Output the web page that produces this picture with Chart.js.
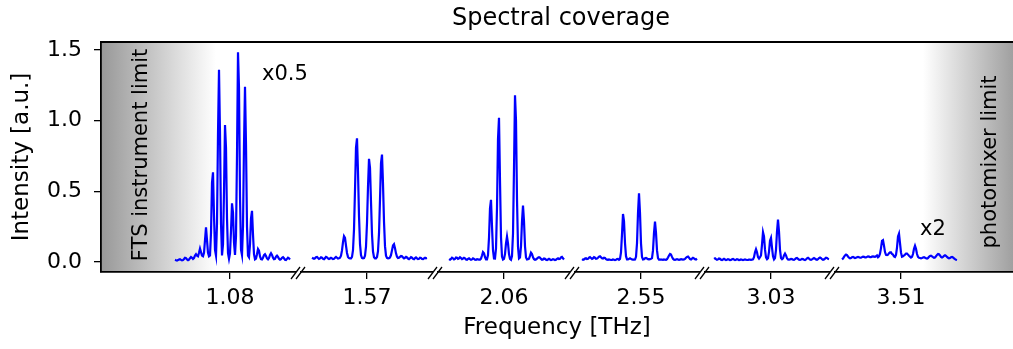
<!DOCTYPE html>
<html lang="en">
<head>
<meta charset="UTF-8">
<title>Spectral coverage</title>
<script src="https://cdn.jsdelivr.net/npm/chart.js"></script>
<style>
    body { margin: 0; background: #ffffff; overflow: hidden; }
    #wrap { width: 1013px; height: 349px; }
</style>
</head>
<body>
<div id="wrap"><canvas id="coverage" width="1013" height="349"></canvas></div>
<script>
// tick labels (THz) for the six measured windows
const tickLabels = ['1.08', '1.57', '2.06', '2.55', '3.03', '3.51'];
const yTicks = [0, 0.5, 1.0, 1.5];

// intensity traces, one sample per plot unit (a.u.)
const band108 = [
    0.015, 0.012, 0.010, 0.013, 0.017, 0.019, 0.015, 0.011, 0.013, 0.021,
    0.030, 0.027, 0.018, 0.013, 0.017, 0.027, 0.035, 0.030, 0.022, 0.028,
    0.045, 0.055, 0.044, 0.040, 0.065, 0.095, 0.070, 0.045, 0.040, 0.065,
    0.155, 0.245, 0.155, 0.065, 0.040, 0.046, 0.205, 0.560, 0.635, 0.328,
    0.085, 0.045, 0.275, 0.909, 1.360, 0.909, 0.275, 0.046, 0.124, 0.497,
    0.970, 0.807, 0.309, 0.063, 0.023, 0.061, 0.219, 0.415, 0.350, 0.139,
    0.050, 0.182, 0.755, 1.485, 1.232, 0.466, 0.088, 0.050, 0.251, 0.829,
    1.240, 0.829, 0.251, 0.045, 0.033, 0.124, 0.309, 0.362, 0.194, 0.055,
    0.019, 0.024, 0.055, 0.092, 0.080, 0.039, 0.020, 0.018, 0.030, 0.048,
    0.055, 0.042, 0.025, 0.018, 0.028, 0.050, 0.062, 0.050, 0.030, 0.020,
    0.022, 0.038, 0.045, 0.036, 0.022, 0.016, 0.020, 0.030, 0.034, 0.026,
    0.016, 0.014, 0.022, 0.030, 0.026, 0.018
];
const band157 = [
    0.030, 0.026, 0.022, 0.026, 0.034, 0.036, 0.028, 0.022, 0.025, 0.033,
    0.030, 0.022, 0.020, 0.027, 0.036, 0.033, 0.025, 0.021, 0.024, 0.030,
    0.026, 0.020, 0.022, 0.030, 0.036, 0.030, 0.024, 0.026, 0.030, 0.044,
    0.082, 0.140, 0.182, 0.170, 0.116, 0.064, 0.036, 0.027, 0.025, 0.025,
    0.036, 0.084, 0.230, 0.509, 0.810, 0.875, 0.636, 0.328, 0.126, 0.048,
    0.028, 0.025, 0.027, 0.044, 0.109, 0.276, 0.532, 0.730, 0.666, 0.426,
    0.195, 0.074, 0.034, 0.026, 0.026, 0.035, 0.076, 0.202, 0.443, 0.700,
    0.760, 0.553, 0.287, 0.112, 0.045, 0.029, 0.026, 0.027, 0.032, 0.049,
    0.082, 0.116, 0.125, 0.097, 0.061, 0.037, 0.028, 0.030, 0.036, 0.042,
    0.040, 0.032, 0.026, 0.030, 0.036, 0.032, 0.024, 0.020, 0.026, 0.034,
    0.030, 0.022, 0.020, 0.027, 0.032, 0.026, 0.020, 0.022, 0.030, 0.028,
    0.021, 0.020, 0.026, 0.030, 0.026, 0.028
];
const band206 = [
    0.020, 0.016, 0.022, 0.030, 0.026, 0.018, 0.022, 0.032, 0.030, 0.022,
    0.026, 0.034, 0.028, 0.020, 0.024, 0.030, 0.026, 0.018, 0.016, 0.022,
    0.026, 0.020, 0.015, 0.018, 0.026, 0.022, 0.016, 0.015, 0.020, 0.018,
    0.016, 0.016, 0.024, 0.046, 0.070, 0.062, 0.035, 0.019, 0.019, 0.049,
    0.171, 0.380, 0.440, 0.251, 0.083, 0.025, 0.024, 0.095, 0.384, 0.870,
    1.020, 0.574, 0.175, 0.038, 0.017, 0.022, 0.056, 0.132, 0.180, 0.132,
    0.056, 0.022, 0.016, 0.042, 0.200, 0.663, 1.180, 1.000, 0.443, 0.108,
    0.025, 0.032, 0.111, 0.287, 0.400, 0.287, 0.111, 0.032, 0.018, 0.020,
    0.023, 0.043, 0.066, 0.057, 0.033, 0.020, 0.016, 0.018, 0.024, 0.030,
    0.034, 0.030, 0.022, 0.016, 0.018, 0.024, 0.022, 0.016, 0.014, 0.018,
    0.022, 0.018, 0.014, 0.016, 0.020, 0.018, 0.014, 0.016, 0.022, 0.026,
    0.020, 0.022, 0.032, 0.036, 0.026, 0.018
];
const band255 = [
    0.020, 0.016, 0.018, 0.024, 0.026, 0.020, 0.022, 0.030, 0.034, 0.028,
    0.022, 0.026, 0.034, 0.030, 0.022, 0.024, 0.030, 0.038, 0.040, 0.034,
    0.026, 0.024, 0.030, 0.028, 0.020, 0.016, 0.015, 0.018, 0.016, 0.014,
    0.015, 0.018, 0.016, 0.014, 0.016, 0.020, 0.022, 0.016, 0.022, 0.067,
    0.196, 0.340, 0.289, 0.134, 0.041, 0.018, 0.018, 0.022, 0.026, 0.022,
    0.018, 0.016, 0.016, 0.017, 0.036, 0.132, 0.347, 0.486, 0.347, 0.132,
    0.036, 0.018, 0.020, 0.026, 0.028, 0.024, 0.020, 0.018, 0.020, 0.022,
    0.027, 0.082, 0.206, 0.285, 0.206, 0.082, 0.027, 0.016, 0.016, 0.018,
    0.016, 0.015, 0.018, 0.016, 0.015, 0.020, 0.032, 0.046, 0.056, 0.052,
    0.036, 0.022, 0.016, 0.015, 0.018, 0.020, 0.018, 0.015, 0.016, 0.020,
    0.018, 0.016, 0.018, 0.022, 0.030, 0.036, 0.038, 0.030, 0.020, 0.018,
    0.024, 0.030, 0.026, 0.020, 0.018, 0.024
];
const band303 = [
    0.022, 0.026, 0.020, 0.015, 0.018, 0.024, 0.022, 0.016, 0.014, 0.018,
    0.022, 0.018, 0.014, 0.016, 0.020, 0.018, 0.014, 0.015, 0.019, 0.021,
    0.017, 0.014, 0.016, 0.020, 0.018, 0.014, 0.015, 0.018, 0.016, 0.014,
    0.016, 0.018, 0.016, 0.014, 0.015, 0.017, 0.016, 0.015, 0.016, 0.018,
    0.034, 0.068, 0.090, 0.068, 0.034, 0.024, 0.034, 0.046, 0.123, 0.210,
    0.180, 0.087, 0.032, 0.020, 0.027, 0.072, 0.150, 0.170, 0.101, 0.040,
    0.018, 0.028, 0.086, 0.216, 0.300, 0.216, 0.086, 0.028, 0.020, 0.026,
    0.047, 0.060, 0.047, 0.026, 0.018, 0.016, 0.018, 0.022, 0.020, 0.016,
    0.015, 0.020, 0.026, 0.028, 0.022, 0.016, 0.015, 0.018, 0.022, 0.020,
    0.016, 0.014, 0.018, 0.026, 0.030, 0.024, 0.017, 0.015, 0.018, 0.024,
    0.028, 0.024, 0.018, 0.016, 0.020, 0.028, 0.032, 0.028, 0.020, 0.016,
    0.018, 0.024, 0.030, 0.028, 0.022, 0.020
];
const band351 = [
    0.018, 0.024, 0.036, 0.046, 0.052, 0.048, 0.038, 0.030, 0.026, 0.028,
    0.034, 0.036, 0.032, 0.028, 0.030, 0.034, 0.036, 0.034, 0.030, 0.030,
    0.034, 0.038, 0.036, 0.032, 0.032, 0.036, 0.040, 0.038, 0.034, 0.034,
    0.038, 0.040, 0.038, 0.036, 0.040, 0.046, 0.033, 0.039, 0.059, 0.098,
    0.150, 0.155, 0.116, 0.070, 0.050, 0.048, 0.052, 0.062, 0.068, 0.068,
    0.056, 0.052, 0.040, 0.036, 0.050, 0.102, 0.180, 0.200, 0.133, 0.066,
    0.037, 0.040, 0.046, 0.052, 0.060, 0.060, 0.052, 0.044, 0.038, 0.031,
    0.036, 0.056, 0.093, 0.115, 0.093, 0.056, 0.036, 0.030, 0.028, 0.026,
    0.028, 0.032, 0.034, 0.030, 0.026, 0.024, 0.028, 0.036, 0.042, 0.044,
    0.040, 0.034, 0.030, 0.032, 0.040, 0.050, 0.056, 0.054, 0.046, 0.036,
    0.032, 0.036, 0.044, 0.048, 0.044, 0.036, 0.030, 0.026, 0.028, 0.034,
    0.036, 0.032, 0.026, 0.020, 0.016, 0.014
];
const bands = [band108, band157, band206, band255, band303, band351];

// layout of the broken frequency axis, in plot units
const axisSpan = 912;
const bandStart = [74, 211, 348, 481, 613, 741];
const tickPos = [129, 266, 403, 540, 670, 800];
const breakPos = [197, 334, 471, 601, 731];

const FONT = 'DejaVu Sans';

const datasets = bands.map((ys, k) => ({
    data: ys.map((y, i) => ({ x: bandStart[k] + i, y: y })),
    borderColor: '#0000ff',
    borderWidth: 2.2,
    pointRadius: 0,
    tension: 0,
    fill: false
}));

// grey fade at both ends of the usable range
const shading = {
    id: 'shading',
    beforeDraw(chart) {
        const { ctx, chartArea: a, scales: { x } } = chart;
        ctx.save();
        const l1 = x.getPixelForValue(115);
        let g = ctx.createLinearGradient(a.left, 0, l1, 0);
        g.addColorStop(0, '#989898');
        g.addColorStop(1, '#ffffff');
        ctx.fillStyle = g;
        ctx.fillRect(a.left, a.top, l1 - a.left, a.bottom - a.top);
        const r0 = x.getPixelForValue(822);
        g = ctx.createLinearGradient(r0, 0, a.right, 0);
        g.addColorStop(0, '#ffffff');
        g.addColorStop(1, '#a0a0a0');
        ctx.fillStyle = g;
        ctx.fillRect(r0, a.top, a.right - r0, a.bottom - a.top);
        ctx.restore();
    }
};

// frame top, axis breaks, title and in-plot notes
const decorations = {
    id: 'decorations',
    afterDraw(chart) {
        const { ctx, chartArea: a, scales: { x, y } } = chart;
        ctx.save();
        ctx.strokeStyle = '#000';
        ctx.lineWidth = 1.8;
        ctx.beginPath();
        ctx.moveTo(a.left - 0.9, a.top);
        ctx.lineTo(a.right, a.top);
        ctx.stroke();

        ctx.lineWidth = 1.3;
        breakPos.forEach(v => {
            const px = x.getPixelForValue(v);
            ctx.fillStyle = '#fff';
            ctx.fillRect(px - 2, a.bottom - 2, 4, 4);
            [-2.5, 2.5].forEach(dx => {
                ctx.beginPath();
                ctx.moveTo(px + dx - 4.5, a.bottom + 7);
                ctx.lineTo(px + dx + 4.5, a.bottom - 5);
                ctx.stroke();
            });
        });

        ctx.fillStyle = '#000';
        ctx.font = '24px "' + FONT + '"';
        ctx.textAlign = 'center';
        ctx.textBaseline = 'middle';
        ctx.fillText('Spectral coverage', (a.left + a.right) / 2 + 4, 19);

        ctx.font = '21px "' + FONT + '"';
        ctx.textAlign = 'left';
        ctx.textBaseline = 'alphabetic';
        ctx.fillText('x0.5', x.getPixelForValue(161), y.getPixelForValue(1.288));
        ctx.fillText('x2', x.getPixelForValue(819), y.getPixelForValue(0.19));

        const side = (text, xv, yv) => {
            ctx.save();
            ctx.translate(x.getPixelForValue(xv), y.getPixelForValue(yv));
            ctx.rotate(-Math.PI / 2);
            ctx.textAlign = 'center';
            ctx.fillText(text, 0, 0);
            ctx.restore();
        };
        side('FTS instrument limit', 46, 0.757);
        side('photomixer limit', 895, 0.708);
        ctx.restore();
    }
};

new Chart(document.getElementById('coverage'), {
    type: 'line',
    data: { datasets: datasets },
    options: {
        responsive: false,
        animation: false,
        layout: { padding: { top: 42, left: 0, right: 0, bottom: 0 } },
        plugins: {
            legend: { display: false },
            tooltip: { enabled: false }
        },
        scales: {
            x: {
                type: 'linear',
                min: 0,
                max: axisSpan,
                afterBuildTicks: s => { s.ticks = tickPos.map(v => ({ value: v })); },
                afterFit: s => { s.height = 77; },
                grid: { display: true, drawOnChartArea: false, tickLength: 7, color: '#000', lineWidth: 1.3 },
                border: { display: true, color: '#000', width: 1.8 },
                ticks: {
                    autoSkip: false,
                    maxRotation: 0,
                    padding: 6,
                    color: '#000',
                    font: { family: FONT, size: 22 },
                    callback: (v, i) => tickLabels[i]
                },
                title: {
                    display: true,
                    text: 'Frequency [THz]',
                    color: '#000',
                    font: { family: FONT, size: 23 },
                    padding: { top: 0, bottom: 7 }
                }
            },
            y: {
                min: -0.071,
                max: 1.557,
                afterBuildTicks: s => { s.ticks = yTicks.map(v => ({ value: v })); },
                afterFit: s => { s.width = 101; },
                grid: { display: true, drawOnChartArea: false, tickLength: 7, color: '#000', lineWidth: 1.3 },
                border: { display: true, color: '#000', width: 1.8 },
                ticks: {
                    padding: 12,
                    color: '#000',
                    font: { family: FONT, size: 22 },
                    callback: v => v.toFixed(1)
                },
                title: {
                    display: true,
                    text: 'Intensity [a.u.]',
                    color: '#000',
                    font: { family: FONT, size: 23 },
                    padding: { top: 8, bottom: 0 }
                }
            }
        }
    },
    plugins: [shading, decorations]
});
</script>
</body>
</html>
